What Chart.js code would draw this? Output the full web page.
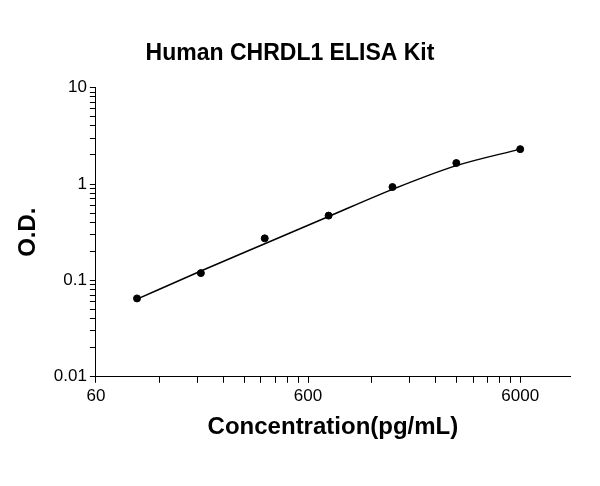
<!DOCTYPE html>
<html><head><meta charset="utf-8">
<script src="https://cdn.jsdelivr.net/npm/chart.js@4/dist/chart.umd.min.js"></script>
<style>html,body{margin:0;padding:0;background:#fff}#w{width:600px;height:486px}</style>
</head><body><div id="w"><canvas id="c"></canvas></div>
<script>
const concentrations = [93.75, 187.5, 375, 750, 1500, 3000, 6000];
const odValues = [0.065, 0.119, 0.273, 0.47, 0.93, 1.65, 2.3];
const fittedCurve = [0.064, 0.125, 0.24, 0.46, 0.88, 1.55, 2.3];
const xTickLabels = [60, 600, 6000];
const yTickLabels = [0.01, 0.1, 1, 10];
const chartTitle = 'Human CHRDL1 ELISA Kit';
const xTitle = 'Concentration(pg/mL)';
const yTitle = 'O.D.';

function minorTicks(min, max){
  const out=[];
  for(let d=min; d<max*1.0001; d*=10){
    for(let k=1;k<10;k++){const v=d*k; if(v<=max*1.0001) out.push({value:v});}
  }
  return out;
}
const font = {family:'Arial, Liberation Sans', size:17};
new Chart(document.getElementById('c'), {
  type:'line',
  data:{datasets:[{
    data: concentrations.map((x,i)=>({x, y:fittedCurve[i]})),
    borderColor:'#000', borderWidth:1.5, pointRadius:0, tension:0.4, cubicInterpolationMode:'monotone'
  },{
    data: concentrations.map((x,i)=>({x, y:odValues[i]})),
    showLine:false, borderColor:'#000', backgroundColor:'#000', pointRadius:3.5
  }]},
  options:{
    responsive:true, maintainAspectRatio:false, animation:false,
    layout:{padding:{top:22,right:30,left:10,bottom:40}},
    plugins:{legend:{display:false},
      title:{display:true,text:chartTitle,color:'#000',font:{family:'Arial, Liberation Sans',size:23,weight:'bold'},padding:{top:18,bottom:20}}},
    scales:{
      x:{type:'logarithmic', min:60, max:10300,
        afterBuildTicks:s=>{s.ticks=minorTicks(60,10300);},
        ticks:{autoSkip:false,maxRotation:0,color:'#000',font,callback:v=>xTickLabels.includes(Math.round(v))?String(Math.round(v)):''},
        grid:{display:true,drawOnChartArea:false,color:'#000',tickLength:6},
        border:{color:'#000',width:1},
        title:{display:true,text:xTitle,color:'#000',font:{family:'Arial, Liberation Sans',size:24,weight:'bold'},padding:{top:4}}},
      y:{type:'logarithmic', min:0.01, max:10,
        afterBuildTicks:s=>{s.ticks=minorTicks(0.01,10);},
        ticks:{autoSkip:false,color:'#000',font,callback:v=>{const m=yTickLabels.find(t=>Math.abs(t-v)/t<1e-6);return m!==undefined?String(m):'';}},
        grid:{display:true,drawOnChartArea:false,color:'#000',tickLength:6},
        border:{color:'#000',width:1},
        title:{display:true,text:yTitle,color:'#000',font:{family:'Arial, Liberation Sans',size:24,weight:'bold'},padding:{bottom:8}}}
    }
  }
});
</script></body></html>
